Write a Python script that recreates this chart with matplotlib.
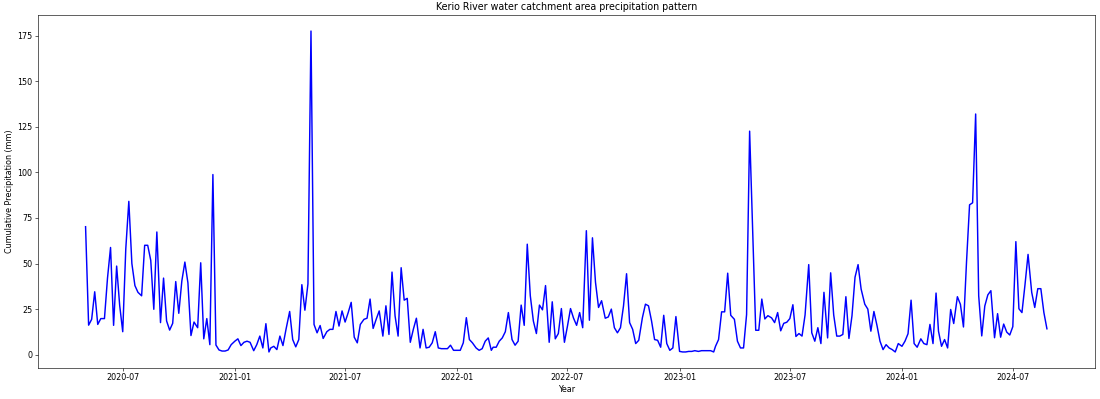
import matplotlib
matplotlib.use("Agg")
import matplotlib.pyplot as plt
import matplotlib.dates as mdates
import pandas as pd

# Pentad start days (1, 6, 11, 16, 21, 26) from May 2020 to Aug 2024
start_month = "2020-05"
end_month = "2024-08"
pentad_days = [1, 6, 11, 16, 21, 26]

precip_2020 = [70.2, 16.2, 19.4, 34.5, 16.6, 19.8, 19.8, 42.0, 58.8, 16.1, 48.6, 27.0,
               12.6, 58.0, 84.1, 50.0, 37.9, 34.2, 32.3, 60.0, 60.0, 51.7, 24.9, 67.3,
               17.6, 42.0, 18.5, 13.5, 17.2, 40.1, 22.7, 40.4, 50.8, 39.4, 10.5, 17.9,
               14.8, 50.4, 8.7, 19.8, 5.5, 98.8, 5.3, 2.6, 2.0, 2.0, 2.6, 5.5]
precip_2021 = [7.4, 8.7, 5.0, 6.8, 7.4, 6.8, 2.2, 5.5, 10.2, 3.7, 17.0, 1.5,
               3.7, 4.6, 2.8, 10.2, 5.0, 13.9, 23.7, 8.3, 4.3, 8.3, 38.4, 24.4,
               38.8, 177.5, 16.6, 12.0, 16.0, 8.9, 12.6, 13.9, 13.9, 23.7, 15.7, 24.0,
               17.9, 23.0, 28.7, 9.6, 6.5, 16.6, 19.4, 20.0, 30.5, 14.4, 19.4, 24.0,
               10.2, 26.8, 11.1, 45.3, 21.3, 10.2, 47.7, 29.9, 30.9, 6.8, 13.9, 20.0,
               3.7, 13.9, 3.7, 4.1, 6.5, 12.6, 3.7, 3.3, 3.3, 3.3, 5.2, 2.4]
precip_2022 = [2.4, 2.4, 6.5, 20.3, 8.3, 6.5, 3.7, 2.4, 3.3, 7.4, 9.2, 2.4,
               4.1, 4.1, 7.4, 9.2, 12.6, 23.1, 8.3, 5.2, 7.4, 27.2, 16.1, 60.6,
               32.3, 18.5, 11.6, 27.2, 24.6, 37.9, 6.8, 29.0, 8.7, 11.6, 25.3, 6.8,
               15.7, 25.3, 20.0, 16.1, 23.1, 14.8, 68.0, 18.9, 64.1, 39.7, 25.9, 29.6,
               20.0, 20.7, 25.0, 14.8, 12.0, 14.8, 26.8, 44.4, 17.6, 13.9, 6.1, 7.9,
               20.3, 27.7, 26.8, 18.5, 8.3, 7.9, 4.1, 21.6, 6.1, 2.4, 3.7, 20.9]
precip_2023 = [1.8, 1.5, 1.5, 1.8, 1.8, 2.2, 1.8, 2.2, 2.2, 2.2, 2.2, 1.5,
               4.6, 8.3, 23.5, 23.5, 44.7, 21.6, 19.4, 7.4, 3.7, 3.7, 22.0, 122.6,
               68.0, 13.4, 13.4, 30.5, 19.6, 21.4, 20.2, 17.6, 23.1, 13.1, 17.2, 17.8,
               19.8, 27.4, 10.0, 11.6, 10.2, 21.8, 49.4, 12.0, 7.4, 14.8, 6.1, 34.2,
               9.2, 44.9, 21.8, 10.2, 10.2, 11.1, 31.8, 8.9, 21.3, 42.5, 49.4, 36.0,
               27.7, 25.0, 12.9, 23.7, 16.1, 7.4, 2.8, 5.5, 3.7, 2.8, 1.5, 6.1]
precip_2024 = [4.6, 7.4, 11.5, 29.9, 6.1, 4.1, 8.7, 6.1, 5.5, 16.6, 6.1, 33.8,
               12.9, 4.6, 8.3, 3.7, 24.8, 17.1, 31.8, 27.6, 15.2, 50.8, 82.2, 83.3,
               132.0, 32.3, 10.3, 26.7, 32.8, 35.1, 9.3, 22.5, 9.6, 16.8, 12.4, 10.8,
               15.4, 62.0, 25.2, 23.1, 38.4, 55.0, 34.2, 25.9, 36.2, 36.2, 23.1, 14.2]

precip = precip_2020 + precip_2021 + precip_2022 + precip_2023 + precip_2024

months = pd.period_range(start_month, end_month, freq="M")
dates = [pd.Timestamp(year=m.year, month=m.month, day=d) for m in months for d in pentad_days]

fig = plt.figure(figsize=(20, 399 / 55), dpi=55)
ax = fig.add_axes([37.5 / 1100, 1 - 368 / 399, (1095 - 37.5) / 1100, (368 - 15) / 399])
ax.plot(dates, precip, color="blue", linewidth=1.9)
ax.set_title("Kerio River water catchment area precipitation pattern", fontsize=12.5)
ax.set_xlabel("Year", fontsize=10.5)
ax.set_ylabel("Cumulative Precipitation (mm)", fontsize=10.5)
ax.xaxis.set_major_locator(mdates.MonthLocator(bymonth=[1, 7]))
ax.xaxis.set_major_formatter(mdates.DateFormatter("%Y-%m"))
ax.set_yticks([0, 25, 50, 75, 100, 125, 150, 175])
ax.tick_params(labelsize=10.5)

fig.savefig("out.png", dpi=55)
